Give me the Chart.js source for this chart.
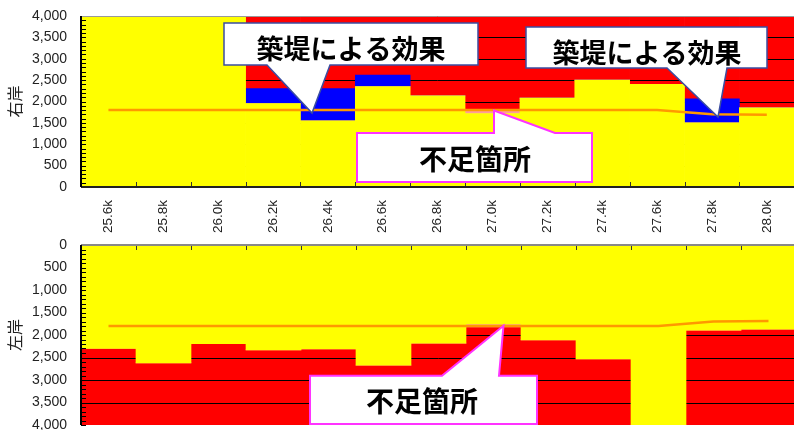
<!DOCTYPE html>
<html lang="ja">
<head>
<meta charset="utf-8">
<script src="https://cdn.jsdelivr.net/npm/chart.js@4.4.1/dist/chart.umd.min.js"></script>
<style>
html, body { margin: 0; padding: 0; background: #fff; overflow: hidden; width: 794px; height: 430px; }
#wrap { position: relative; width: 794px; height: 430px; overflow: hidden; }
#top { position: absolute; left: 0; top: 0; }
#bottom { position: absolute; left: 0; top: 232px; }
</style>
</head>
<body>
<div id="wrap">
  <canvas id="top" width="796" height="240" style="width:796px;height:240px"></canvas>
  <canvas id="bottom" width="796" height="210" style="width:796px;height:210px"></canvas>
</div>
<script>
// 距離標
const categories = ['25.6k', '25.8k', '26.0k', '26.2k', '26.4k', '26.6k', '26.8k',
                    '27.0k', '27.2k', '27.4k', '27.6k', '27.8k', '28.0k'];

// 右岸 (下から積み上げ)
const rightLevee   = [4000, 4000, 4000, 1950, 1550, 2350, 2130, 1720, 2080, 2500, 2400, 1500, 1850];
const rightShort   = [0, 0, 0, 0, 0, 0, 0, 60, 0, 0, 0, 0, 0];
const rightEffect  = [0, 0, 0, 350, 750, 270, 0, 0, 0, 0, 0, 560, 0];
const rightRest    = [0, 0, 0, 1700, 1700, 1380, 1870, 2220, 1920, 1500, 1600, 1940, 2150];
const rightPlan    = [1800, 1800, 1800, 1800, 1800, 1800, 1800, 1800, 1800, 1800, 1800, 1700, 1690];

// 左岸 (上から積み上げ、軸は反転)
const leftLevee    = [2300, 2620, 2190, 2330, 2310, 2670, 2180, 1755, 2110, 2530, 4000, 1890, 1870];
const leftShort    = [0, 0, 0, 0, 0, 0, 0, 65, 0, 0, 0, 0, 0];
const leftRest     = [1700, 1380, 1810, 1670, 1690, 1330, 1820, 2180, 1890, 1470, 0, 2110, 2130];
const leftPlan     = [1800, 1800, 1800, 1800, 1800, 1800, 1800, 1800, 1800, 1800, 1800, 1700, 1690];

const YELLOW = '#FFFF00', RED = '#FF0000', BLUE = '#0000FF', PINK = '#FF9C9C', ORANGE = '#FF9900';
const CJK = '"Noto Sans CJK JP", sans-serif';
const LATIN = '"Liberation Sans", Arial, sans-serif';

function drawCallout(ctx, c) {
  const [x1, y1, x2, y2] = c.box;
  ctx.save();
  ctx.beginPath();
  if (c.side === 'bottom') {
    ctx.moveTo(x1, y1); ctx.lineTo(x2, y1); ctx.lineTo(x2, y2);
    ctx.lineTo(c.base[1], y2); ctx.lineTo(c.tip[0], c.tip[1]); ctx.lineTo(c.base[0], y2);
    ctx.lineTo(x1, y2);
  } else {
    ctx.moveTo(x1, y1); ctx.lineTo(c.base[0], y1); ctx.lineTo(c.tip[0], c.tip[1]);
    ctx.lineTo(c.base[1], y1); ctx.lineTo(x2, y1); ctx.lineTo(x2, y2); ctx.lineTo(x1, y2);
  }
  ctx.closePath();
  ctx.fillStyle = '#fff';
  ctx.fill();
  ctx.lineWidth = c.lineWidth;
  ctx.strokeStyle = c.color;
  ctx.stroke();
  ctx.fillStyle = '#000';
  ctx.font = 'bold ' + c.size + 'px ' + CJK;
  ctx.textAlign = 'center';
  ctx.textBaseline = 'middle';
  ctx.fillText(c.text, c.at[0], c.at[1]);
  ctx.restore();
}

// 赤の上に黒の目盛線、軸の内向き目盛、吹き出し
const decoPlugin = {
  id: 'deco',
  afterDatasetDraw(chart, args, opts) {
    if (args.index !== opts.gridAfter) return;
    const { ctx, chartArea: a } = chart;
    const y = chart.scales.y;
    ctx.save();
    ctx.strokeStyle = '#000';
    ctx.lineWidth = 1;
    y.ticks.forEach(t => {
      if (t.value <= y.min || t.value >= y.max) return;
      const py = Math.round(y.getPixelForValue(t.value)) + 0.5;
      ctx.beginPath(); ctx.moveTo(a.left, py); ctx.lineTo(a.right, py); ctx.stroke();
    });
    ctx.restore();
  },
  afterDraw(chart, args, opts) {
    const { ctx, chartArea: a } = chart;
    const x = chart.scales.x, y = chart.scales.y;
    ctx.save();
    // 補助目盛
    ctx.strokeStyle = '#000';
    ctx.lineWidth = 1;
    for (let v = y.min; v <= y.max; v += 100) {
      const py = Math.round(y.getPixelForValue(v)) + 0.5;
      ctx.beginPath(); ctx.moveTo(a.left, py); ctx.lineTo(a.left + 5, py); ctx.stroke();
    }
    // 横軸
    const onTop = opts.xAxisAt === 'top';
    const xEdge = onTop ? a.top : a.bottom;
    const dir = onTop ? 1 : -1;
    ctx.strokeStyle = '#333';
    for (let i = 0; i <= categories.length; i++) {
      const px = Math.round(x.getPixelForValue(i - 0.5)) + 0.5;
      ctx.beginPath(); ctx.moveTo(px, xEdge); ctx.lineTo(px, xEdge + dir * 5); ctx.stroke();
    }
    ctx.lineWidth = 2;
    ctx.strokeStyle = onTop ? '#888' : '#222';
    ctx.beginPath(); ctx.moveTo(a.left, xEdge); ctx.lineTo(a.right, xEdge); ctx.stroke();
    if (!onTop) {
      ctx.lineWidth = 1;
      ctx.strokeStyle = '#999';
      ctx.beginPath(); ctx.moveTo(a.left, a.top + 0.5); ctx.lineTo(a.right, a.top + 0.5); ctx.stroke();
    }
    // 縦軸
    ctx.lineWidth = 2;
    ctx.strokeStyle = '#000';
    ctx.beginPath(); ctx.moveTo(a.left, a.top); ctx.lineTo(a.left, a.bottom); ctx.stroke();
    ctx.restore();
    (opts.callouts || []).forEach(c => drawCallout(ctx, c));
  }
};

function barSet(label, data, color) {
  return {
    type: 'bar', label: label, data: data, backgroundColor: color,
    borderWidth: 0, barPercentage: 1, categoryPercentage: 1, order: 1, stack: 'main'
  };
}

function planLine(data) {
  return {
    type: 'line', label: '計画高', data: data, borderColor: ORANGE, borderWidth: 2.5,
    pointRadius: 0, tension: 0, fill: false, order: 0, stack: 'plan'
  };
}

function yAxis(title, reverse) {
  return {
    stacked: true, min: 0, max: 4000, reverse: reverse,
    // 目盛線は描かず、tickLength でラベルの間隔だけ取る
    grid: { display: false, drawTicks: true, tickLength: 12 },
    border: { display: false },
    ticks: {
      stepSize: 500, padding: 2, color: '#222',
      font: { family: LATIN, size: 14 },
      callback: v => v.toLocaleString('en-US')
    },
    title: {
      display: true, text: title, color: '#222',
      font: { family: CJK, size: 16 }, padding: { top: 5, bottom: 0 }
    },
    afterFit: s => { s.width = 81; }
  };
}

const rightOrder = barSet('余裕', rightRest, RED);
rightOrder.order = 3;

new Chart(document.getElementById('top'), {
  data: {
    labels: categories,
    datasets: [
      barSet('堤防高', rightLevee, YELLOW),
      barSet('不足', rightShort, PINK),
      barSet('築堤', rightEffect, BLUE),
      rightOrder,
      planLine(rightPlan)
    ]
  },
  options: {
    responsive: false, animation: false, events: [],
    layout: { padding: { top: 16, left: 0, right: 0, bottom: 0 } },
    plugins: {
      legend: { display: false }, tooltip: { enabled: false },
      deco: {
        gridAfter: 3, xAxisAt: 'bottom',
        callouts: [
          { text: '築堤による効果', box: [224, 23, 478, 65], side: 'bottom', base: [267, 330],
            tip: [312, 113], at: [351, 49], color: '#3B4DA1', lineWidth: 1.5, size: 27 },
          { text: '築堤による効果', box: [526, 27, 767, 68], side: 'bottom', base: [667, 727],
            tip: [718, 117], at: [647, 53], color: '#3B4DA1', lineWidth: 1.5, size: 27 },
          { text: '不足箇所', box: [357, 133, 592, 182], side: 'top', base: [494, 555],
            tip: [494, 110.5], at: [475, 159.5], color: '#FF33FF', lineWidth: 2, size: 28 }
        ]
      }
    },
    scales: {
      x: {
        stacked: true, offset: true,
        grid: { display: false, drawTicks: false },
        border: { display: false },
        ticks: {
          autoSkip: false, minRotation: 90, maxRotation: 90, padding: 13, color: '#222',
          font: { family: LATIN, size: 13.5 }
        },
        afterFit: s => { s.height = 53; }
      },
      y: yAxis('右岸', false)
    }
  },
  plugins: [decoPlugin]
});

const leftOrder = barSet('余裕', leftRest, RED);
leftOrder.order = 3;

new Chart(document.getElementById('bottom'), {
  data: {
    labels: categories,
    datasets: [
      barSet('堤防高', leftLevee, YELLOW),
      barSet('不足', leftShort, PINK),
      { ...barSet('築堤', categories.map(() => 0), BLUE), hidden: true },
      leftOrder,
      planLine(leftPlan)
    ]
  },
  options: {
    responsive: false, animation: false, events: [],
    layout: { padding: { top: 0, left: 0, right: 0, bottom: 17 } },
    plugins: {
      legend: { display: false }, tooltip: { enabled: false },
      deco: {
        gridAfter: 3, xAxisAt: 'top',
        callouts: [
          { text: '不足箇所', box: [310, 143.7, 537, 192], side: 'top', base: [442, 499],
            tip: [503.5, 93.7], at: [422, 169.5], color: '#FF33FF', lineWidth: 2, size: 28 }
        ]
      }
    },
    scales: {
      x: {
        stacked: true, offset: true, position: 'top',
        grid: { display: false, drawTicks: false },
        border: { display: false },
        ticks: { display: false },
        afterFit: s => { s.height = 13; }
      },
      y: yAxis('左岸', true)
    }
  },
  plugins: [decoPlugin]
});
</script>
</body>
</html>
